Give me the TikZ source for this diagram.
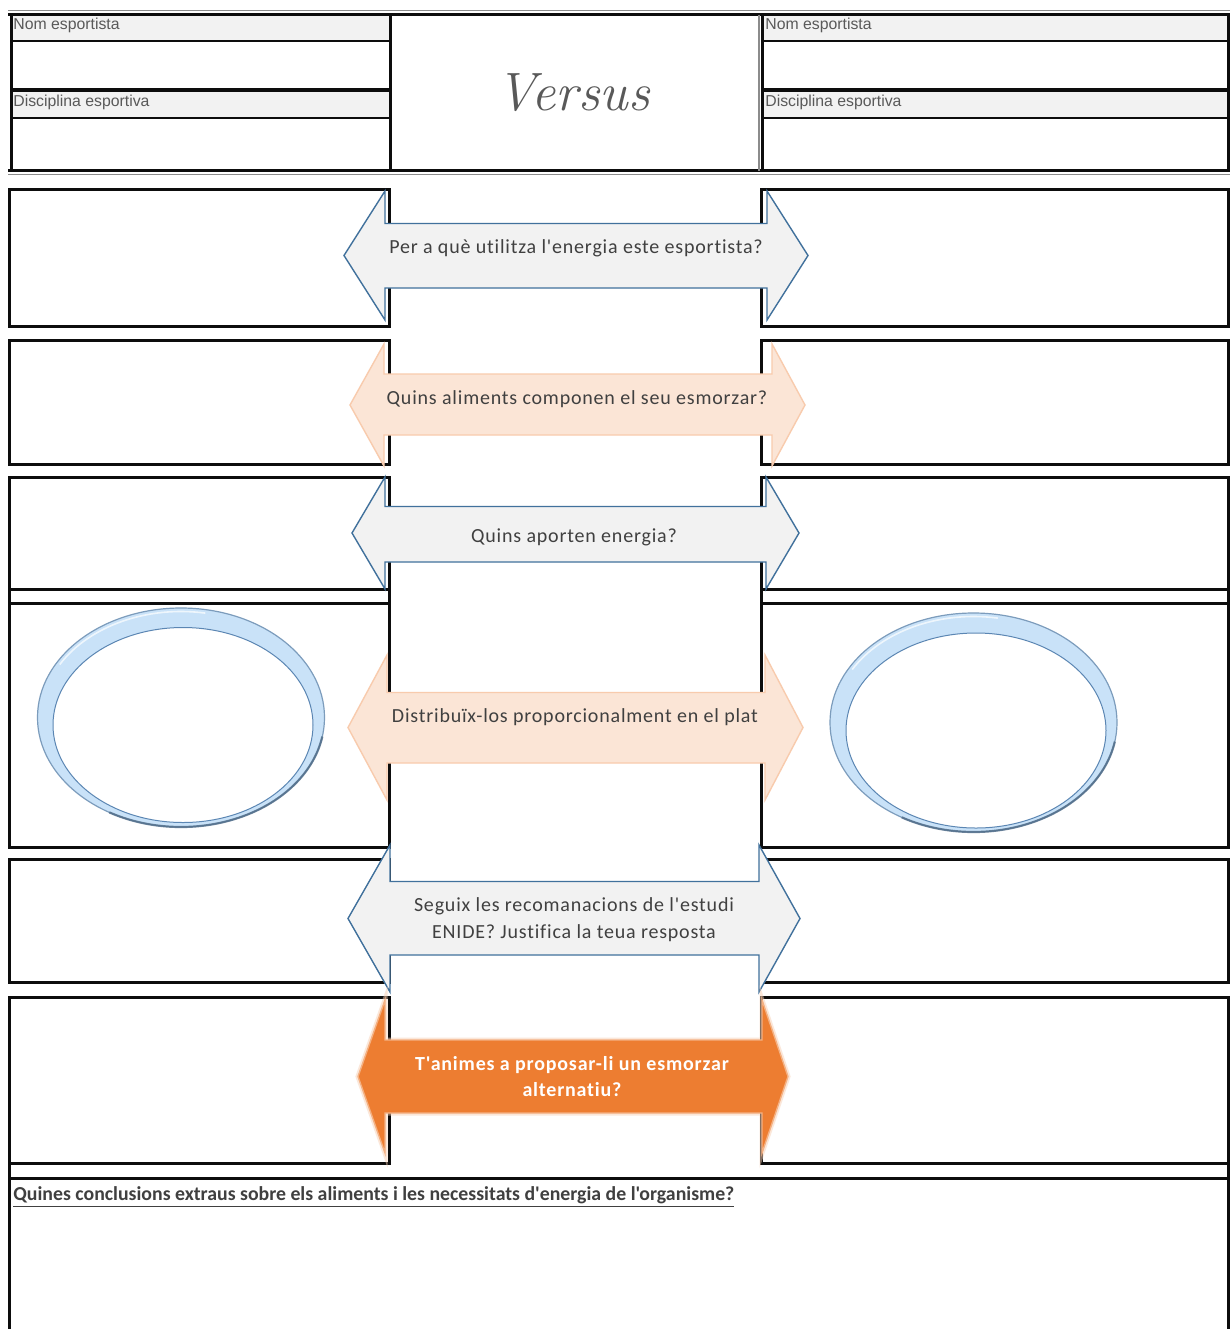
\documentclass[tikz,border=0pt]{standalone}
\usepackage{fontspec}
\newfontfamily\cali{Carlito}[LetterSpace=4, Ligatures=NoCommon]
\newfontfamily\calib{Carlito}[Ligatures=NoCommon]
\newfontfamily\arl{Liberation Sans}
\definecolor{bandgray}{HTML}{F2F2F2}
\definecolor{txtgray}{HTML}{404040}
\definecolor{lblgray}{HTML}{595959}
\definecolor{bluestroke}{HTML}{41719C}
\definecolor{peachfill}{HTML}{FBE5D6}
\definecolor{peachstroke}{HTML}{F8CBAD}
\definecolor{orangefill}{HTML}{ED7D31}
\definecolor{orangeglow}{HTML}{F4B183}
\definecolor{ringfill}{HTML}{C9E2F8}
\definecolor{ringedge}{HTML}{7C9CBC}
\definecolor{ringdark}{HTML}{4E6A86}
\definecolor{ringinner}{HTML}{5B86B3}
\tikzset{
  boxline/.style={line width=1.5pt, black!95},
  thinrule/.style={line width=0.6pt, black!45},
  grayarrow/.style={fill=bandgray, draw=bluestroke, line width=0.7pt, line join=miter},
  peacharrow/.style={fill=peachfill, draw=peachstroke, line width=0.7pt, line join=miter},
  orangearrow/.style={fill=orangefill, draw=orangeglow, line width=0.7pt, line join=miter},
  arrowtext/.style={font=\cali\fontsize{10}{13.5}\selectfont, text=txtgray, align=center, inner sep=0pt},
  headlabel/.style={font=\arl\fontsize{7.9}{9}\selectfont, text=lblgray, anchor=west, inner sep=0pt},
}
% \darrow{style}{x tip left}{x base left}{x base right}{x tip right}{head top}{head bottom}{shaft top}{shaft bottom}
\newcommand{\darrow}[9]{%
  \path[#1] ({#2},{(#6+#7)/2}) -- (#3,#6) -- (#3,#8) -- (#4,#8) -- (#4,#6) -- ({#5},{(#6+#7)/2})
    -- (#4,#7) -- (#4,#9) -- (#3,#9) -- (#3,#7) -- cycle;}
\newcommand{\plate}[5]{% name, cx, cy, inner dx, inner dy
  \fill[ringfill] (#2,#3) ellipse [x radius=143.5, y radius=109.5];
  \draw[ringedge, line width=0.6pt] (#2,#3) ellipse [x radius=143.5, y radius=109.5];
  \draw[ringdark, line width=1.1pt, opacity=0.8] ([shift={(#2,#3)}]10:143.5 and 109.5) arc [start angle=10, end angle=120, x radius=143.5, y radius=109.5];
  \draw[white, line width=0.8pt, opacity=0.7] ([shift={(#2,#3)}]210:140 and 106) arc [start angle=210, end angle=280, x radius=140, y radius=106];
  \fill[white] ({#2+#4},{#3+#5}) ellipse [x radius=130, y radius=97.5];
  \draw[ringinner, line width=0.5pt] ({#2+#4},{#3+#5}) ellipse [x radius=130, y radius=97.5];
  \coordinate (#1) at (#2,#3);}
\begin{document}
\begin{tikzpicture}[x=0.5pt,y=-0.5pt]
\useasboundingbox (0,0) rectangle (1230,1329);
\fill[white] (0,0) rectangle (1230,1329);

% ---------- header ----------
\fill[bandgray] (11,15) rectangle (389,40);
\fill[bandgray] (11,90) rectangle (389,117);
\fill[bandgray] (762,15) rectangle (1228,40);
\fill[bandgray] (762,90) rectangle (1228,117);
\draw[thinrule] (8,10.5) -- (1230,10.5);
\draw[boxline] (8,14.5) -- (1230,14.5);
\draw[boxline] (8,170.5) -- (1230,170.5);
\draw[thinrule] (8,174.5) -- (1230,174.5);
\foreach \yy/\w in {41/1.4pt, 89.5/2pt, 118/1.4pt}{
  \draw[black!95, line width=\w] (11,\yy) -- (389,\yy);
  \draw[black!95, line width=\w] (762,\yy) -- (1228,\yy);
}
\draw[boxline] (11.5,14.5) -- (11.5,170.5);
\draw[boxline] (390,14.5) -- (390,170.5);
\draw[boxline] (762,14.5) -- (762,170.5);
\draw[thinrule] (759,14.5) -- (759,170.5);
\draw[boxline] (1228.5,14.5) -- (1228.5,170.5);

\node[headlabel] (nomL) at (13,25) {Nom esportista};
\node[headlabel] (discL) at (13,102) {Disciplina esportiva};
\node[headlabel] (nomR) at (765,25) {Nom esportista};
\node[headlabel] (discR) at (765,102) {Disciplina esportiva};
\node[font=\fontsize{27}{30}\selectfont\itshape, text=lblgray, inner sep=0pt] (versus) at (573,93) {Versus};

% ---------- row boxes ----------
\foreach \ya/\yb in {189/326, 340/464, 477/603, 603/847, 859/982, 997/1163}{
  \draw[boxline] (9.5,\ya) rectangle (389.5,\yb);
  \draw[boxline] (761.5,\ya) rectangle (1228,\yb);
}
\draw[boxline] (9.5,589) -- (389.5,589);
\draw[boxline] (761.5,589) -- (1228,589);

% ---------- bottom section ----------
\draw[boxline] (9.5,1178) -- (1230,1178);
\draw[boxline] (9.5,1163) -- (9.5,1329);
\draw[boxline] (1228,1163) -- (1228,1329);
\node[font=\calib\bfseries\fontsize{9.9}{11}\selectfont, text=txtgray, anchor=west, inner sep=0pt] (concl) at (13,1197)
  {\underline{Quines conclusions extraus sobre els aliments i les necessitats d'energia de l'organisme?}};

% ---------- plates ----------
\plate{plateL}{181}{717.5}{2}{7.5}
\plate{plateR}{973.5}{722.5}{2.5}{8}

% ---------- double arrows ----------
\darrow{grayarrow}{344}{385}{767}{808}{191}{320}{223.5}{288}
\node[arrowtext] (q1) at (576,248) {Per a què utilitza l'energia este esportista?};

\darrow{peacharrow}{350}{384}{772}{805}{344}{466}{374}{435}
\node[arrowtext] (q2) at (577,399) {Quins aliments componen el seu esmorzar?};

\darrow{grayarrow}{352}{385}{766}{799}{477}{589}{506.5}{562}
\node[arrowtext] (q3) at (574,537) {Quins aporten energia?};

\darrow{peacharrow}{348}{387}{765}{803}{655}{800}{692.5}{763}
\node[arrowtext] (q4) at (575,717) {Distribuïx-los proporcionalment en el plat};

\darrow{grayarrow}{348}{390}{759}{800}{845}{992}{881.5}{955}
\node[arrowtext] (q5) at (574,920) {Seguix les recomanacions de l'estudi\\ENIDE? Justifica la teua resposta};

\darrow{draw=orangeglow!60, line width=2.5pt, opacity=0.5}{358}{385}{762}{788}{1000}{1153}{1040}{1113}
\darrow{orangearrow}{358}{385}{762}{788}{1000}{1153}{1040}{1113}
\node[arrowtext, font=\cali\bfseries\fontsize{10}{13}\selectfont, text=white] (q6) at (572,1077) {T'animes a proposar-li un esmorzar\\alternatiu?};
\end{tikzpicture}
\end{document}
